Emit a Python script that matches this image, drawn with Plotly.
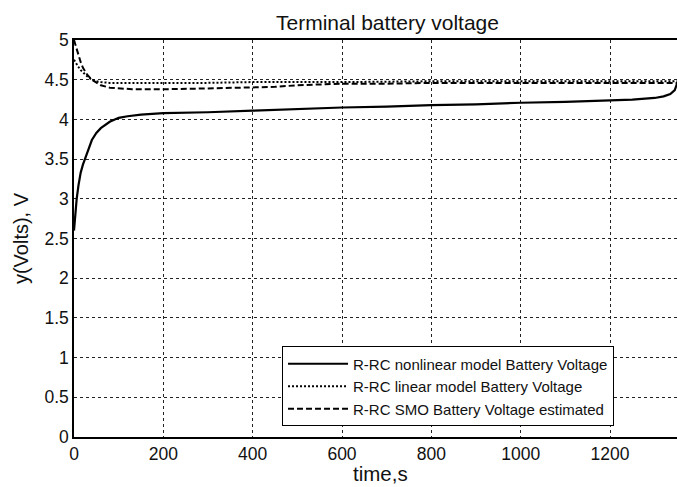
import plotly.graph_objects as go

# R-RC nonlinear model terminal voltage
t_nonlinear = [0, 3, 6, 10, 15, 20, 25, 30, 40, 50, 60, 80, 100, 120, 150, 200, 300, 400,
               500, 600, 700, 800, 900, 1000, 1100, 1200, 1250, 1300, 1320, 1335, 1345, 1350]
v_nonlinear = [2.6, 2.85, 3.0, 3.17, 3.33, 3.43, 3.51, 3.6, 3.74, 3.83, 3.89, 3.97, 4.02, 4.04,
               4.06, 4.08, 4.09, 4.11, 4.13, 4.15, 4.16, 4.18, 4.19, 4.21, 4.22, 4.24, 4.25,
               4.27, 4.29, 4.32, 4.37, 4.45]

# R-RC linear model terminal voltage
t_linear = [0, 5, 10, 15, 20, 30, 40, 50, 60, 80, 100, 150, 200, 300, 400, 600, 800, 1000, 1200, 1350]
v_linear = [4.75, 4.7, 4.66, 4.62, 4.59, 4.54, 4.5, 4.48, 4.47, 4.46, 4.46, 4.46, 4.46, 4.46,
            4.47, 4.47, 4.48, 4.48, 4.48, 4.48]

# SMO estimated terminal voltage
t_smo = [0, 5, 10, 15, 20, 30, 40, 50, 60, 80, 100, 130, 160, 200, 300, 400, 450, 500, 550, 600,
         700, 800, 1000, 1200, 1350]
v_smo = [5.0, 4.9, 4.8, 4.72, 4.65, 4.56, 4.5, 4.46, 4.43, 4.4, 4.39, 4.38, 4.38, 4.38,
         4.39, 4.4, 4.41, 4.43, 4.44, 4.45, 4.45, 4.46, 4.46, 4.46, 4.46]

x_ticks = [0, 200, 400, 600, 800, 1000, 1200]
y_ticks = [0, 0.5, 1, 1.5, 2, 2.5, 3, 3.5, 4, 4.5, 5]
y_tick_text = ["0", "0.5", "1", "1.5", "2", "2.5", "3", "3.5", "4", "4.5", "5"]

FONT = "Liberation Sans, Arial, Helvetica, sans-serif"

fig = go.Figure()
fig.add_trace(go.Scatter(x=t_nonlinear, y=v_nonlinear, mode="lines",
                         name="R-RC nonlinear model Battery Voltage",
                         line=dict(color="black", width=2.2)))
fig.add_trace(go.Scatter(x=t_linear, y=v_linear, mode="lines",
                         name="R-RC linear model Battery Voltage",
                         line=dict(color="black", width=2, dash="2px,2px")))
fig.add_trace(go.Scatter(x=t_smo, y=v_smo, mode="lines",
                         name="R-RC SMO Battery Voltage estimated",
                         line=dict(color="black", width=2, dash="6px,3px")))

fig.update_layout(
    width=677, height=487,
    margin=dict(l=74, r=0, t=40, b=50),
    paper_bgcolor="white", plot_bgcolor="white",
    font=dict(family=FONT, color="#111", size=17),
    showlegend=True,
    legend=dict(x=0.345, y=0.228, xanchor="left", yanchor="top",
                bgcolor="white", bordercolor="black", borderwidth=1,
                font=dict(family=FONT, size=15, color="#111"),
                itemwidth=60, tracegroupgap=0),
    annotations=[
        dict(text="Terminal battery voltage", xref="paper", yref="paper",
             x=0.52, y=1.0, yshift=4, xanchor="center", yanchor="bottom",
             showarrow=False, font=dict(family=FONT, size=21, color="#111")),
        dict(text="time,s", xref="paper", yref="paper",
             x=(380.5 - 74) / 603, y=0, yshift=-50, xanchor="center", yanchor="bottom",
             showarrow=False, font=dict(family=FONT, size=20.5, color="#111")),
    ],
)

fig.update_xaxes(range=[0, 1350], tickvals=x_ticks, ticks="inside", ticklen=0,
                 showline=True, linecolor="black", linewidth=1.5, mirror=True,
                 showgrid=True, gridcolor="#222", gridwidth=1, griddash="3px,3px",
                 zeroline=False, tickfont=dict(size=17.5))
fig.update_yaxes(range=[0, 5], tickvals=y_ticks, ticktext=y_tick_text, ticks="inside", ticklen=0,
                 showline=True, linecolor="black", linewidth=1.5, mirror=False,
                 showgrid=True, gridcolor="#222", gridwidth=1, griddash="3px,3px",
                 zeroline=False, tickfont=dict(size=17.5),
                 title=dict(text="y(Volts), V", font=dict(size=20), standoff=10))

fig.write_html("out.html")
